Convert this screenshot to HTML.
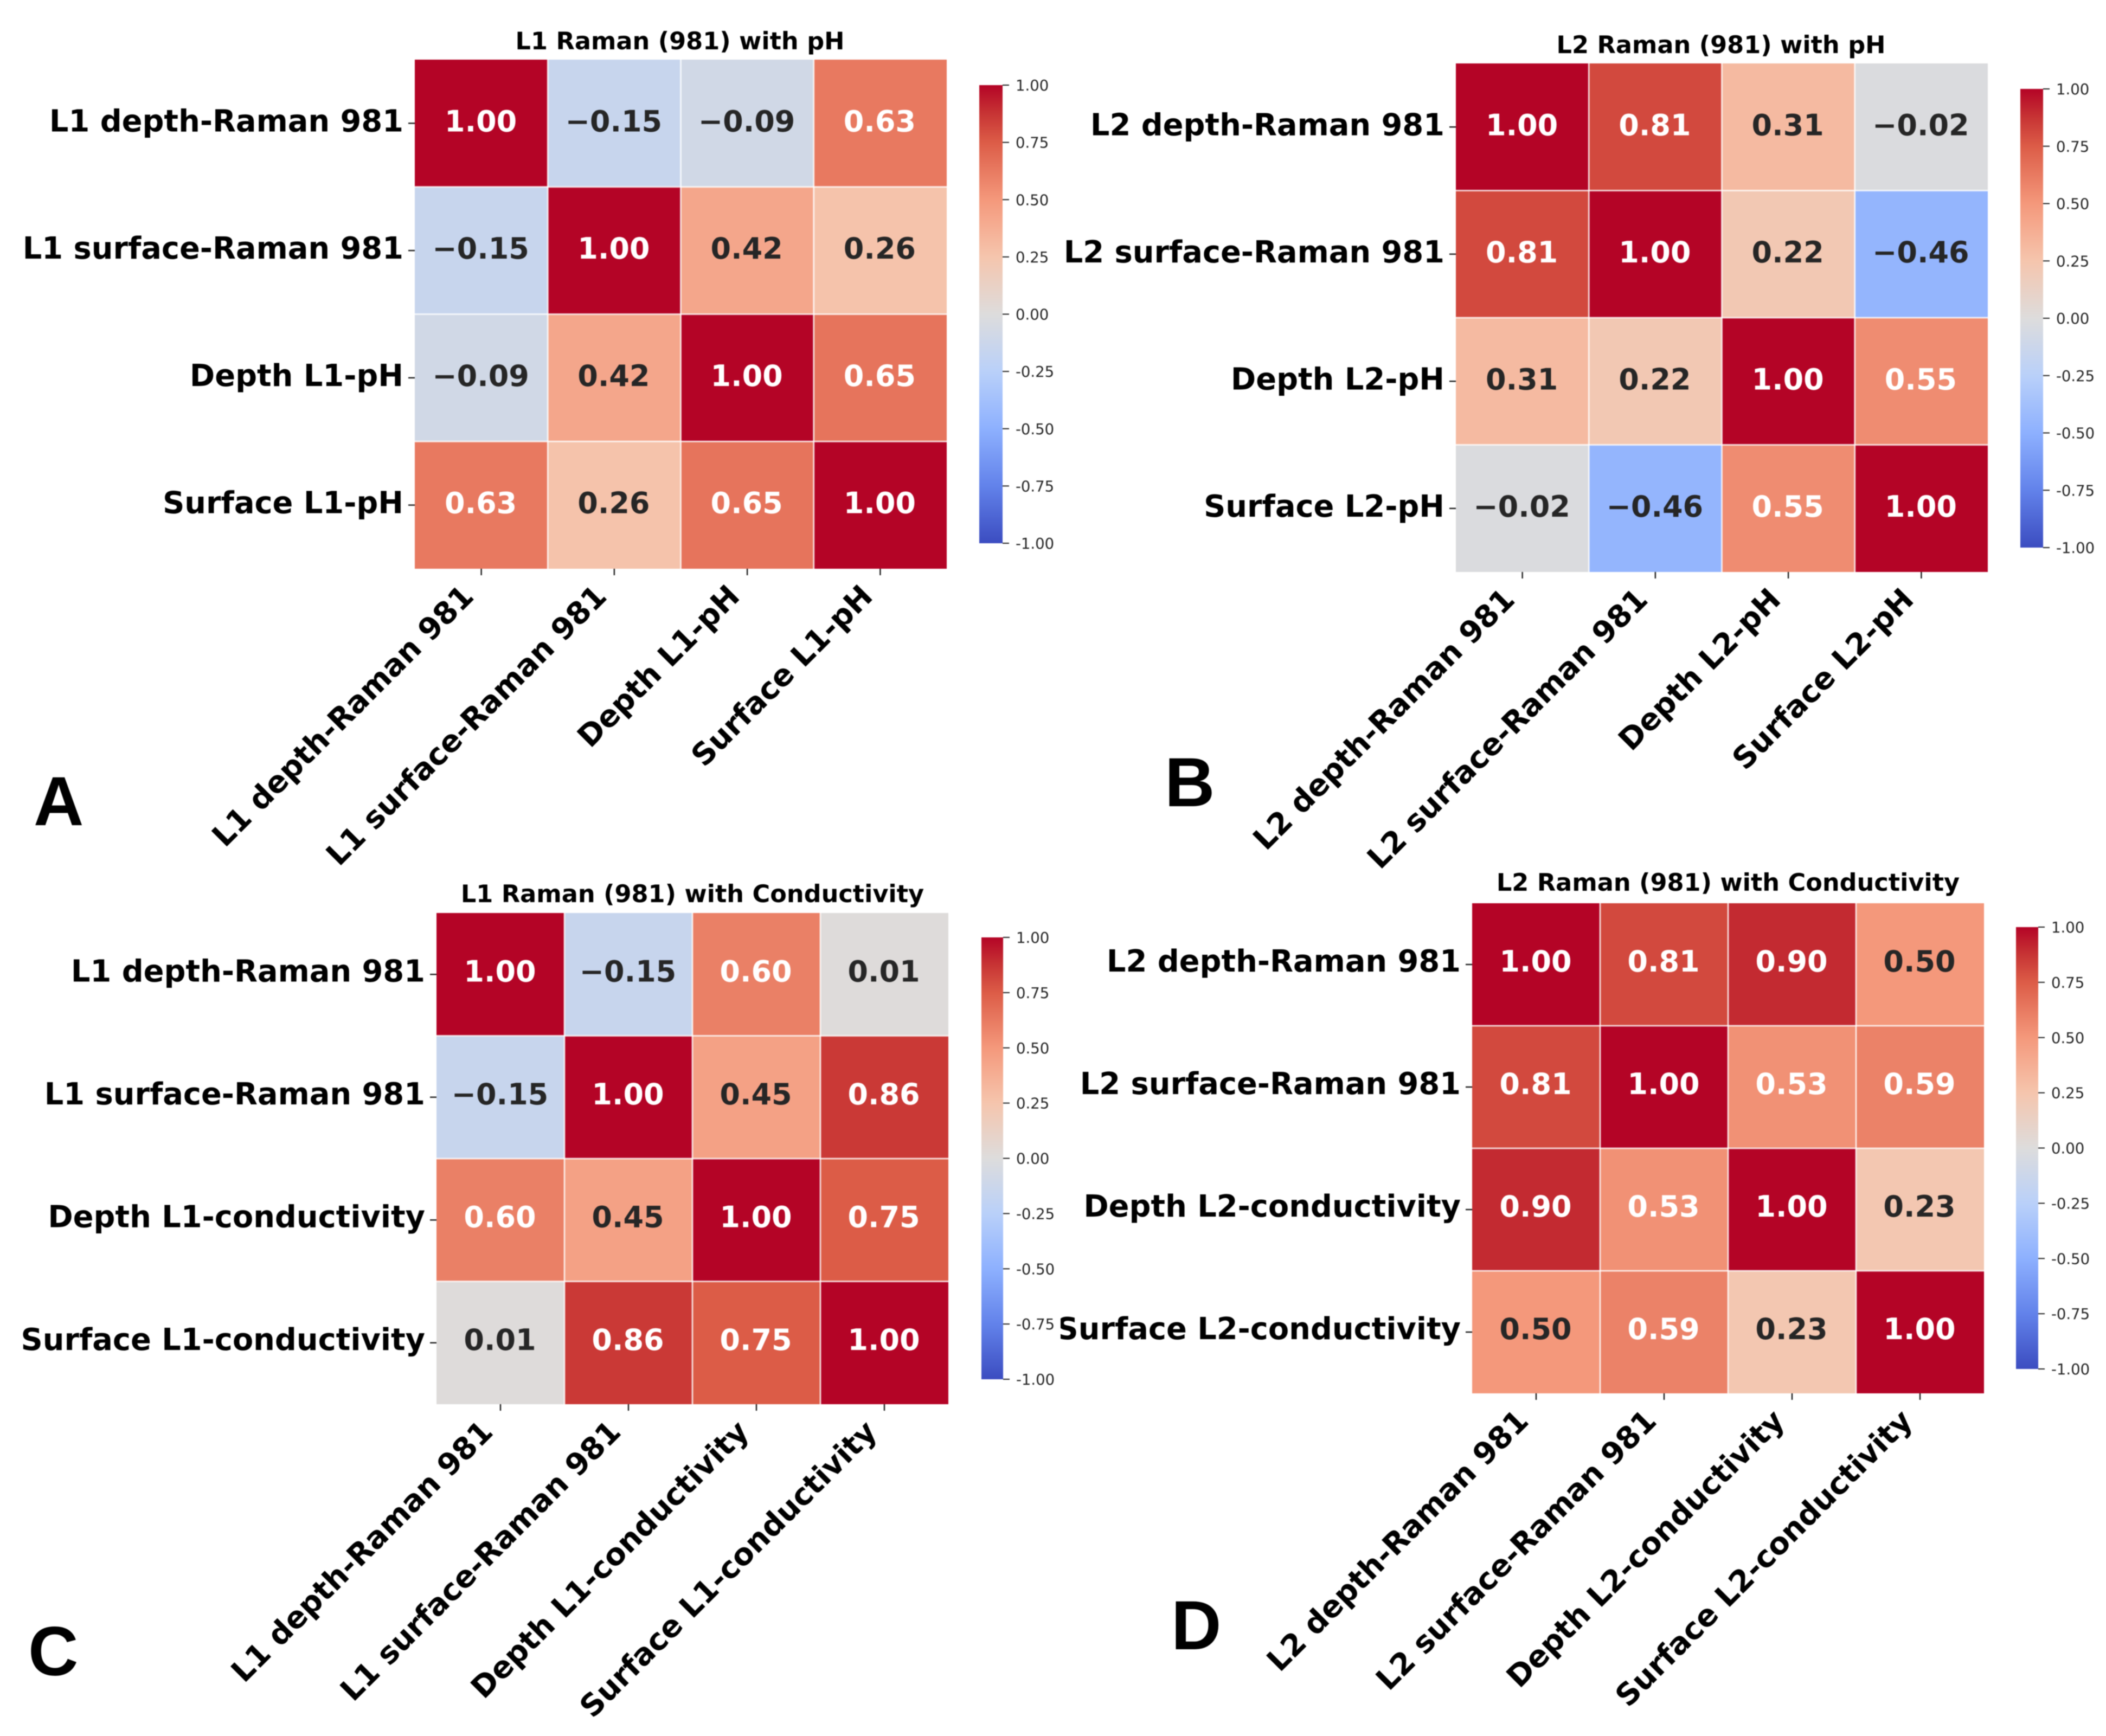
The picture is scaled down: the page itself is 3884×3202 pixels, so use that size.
<!DOCTYPE html>
<html lang="en">
<head>
<meta charset="utf-8">
<title>Raman correlation heatmaps</title>
<style>
html,body{margin:0;padding:0;background:#fff;}
svg{display:block;filter:blur(0.9px);}
text{font-family:"DejaVu Sans","Liberation Sans",sans-serif;}
.letter{font-family:"Liberation Sans",sans-serif;font-weight:700;font-size:128px;fill:#000;}
.title{font-weight:700;font-size:44.6px;fill:#000;text-anchor:middle;}
</style>
</head>
<body>
<svg id="figure" xmlns="http://www.w3.org/2000/svg" width="3884" height="3202" viewBox="0 0 3884 3202">
  <rect width="3884" height="3202" fill="#ffffff"/>
  <defs>
    <linearGradient id="cbar-gradient" x1="0" y1="1" x2="0" y2="0"></linearGradient>
    <clipPath id="clip-d-labels"><rect x="1956" y="1600" width="800" height="1000"/></clipPath>
  </defs>
  <g id="panel-a">
    <text class="title" x="1254" y="91">L1 Raman (981) with pH</text>
  </g>
  <g id="panel-b">
    <text class="title" x="3174" y="98">L2 Raman (981) with pH</text>
  </g>
  <g id="panel-c">
    <text class="title" x="1277" y="1664">L1 Raman (981) with Conductivity</text>
  </g>
  <g id="panel-d">
    <text class="title" x="3187" y="1643">L2 Raman (981) with Conductivity</text>
  </g>
  <text class="letter" x="62" y="1522">A</text>
  <text class="letter" x="2148" y="1487">B</text>
  <text class="letter" x="52" y="3090">C</text>
  <text class="letter" x="2160" y="3042">D</text>
</svg>
<script>
// ---- chart data ----
const labelsA = ["L1 depth-Raman 981", "L1 surface-Raman 981", "Depth L1-pH", "Surface L1-pH"];
const labelsB = ["L2 depth-Raman 981", "L2 surface-Raman 981", "Depth L2-pH", "Surface L2-pH"];
const labelsC = ["L1 depth-Raman 981", "L1 surface-Raman 981", "Depth L1-conductivity", "Surface L1-conductivity"];
const labelsD = ["L2 depth-Raman 981", "L2 surface-Raman 981", "Depth L2-conductivity", "Surface L2-conductivity"];
const valuesA = [
  [1.00, -0.15, -0.09, 0.63],
  [-0.15, 1.00, 0.42, 0.26],
  [-0.09, 0.42, 1.00, 0.65],
  [0.63, 0.26, 0.65, 1.00]
];
const valuesB = [
  [1.00, 0.81, 0.31, -0.02],
  [0.81, 1.00, 0.22, -0.46],
  [0.31, 0.22, 1.00, 0.55],
  [-0.02, -0.46, 0.55, 1.00]
];
const valuesC = [
  [1.00, -0.15, 0.60, 0.01],
  [-0.15, 1.00, 0.45, 0.86],
  [0.60, 0.45, 1.00, 0.75],
  [0.01, 0.86, 0.75, 1.00]
];
const valuesD = [
  [1.00, 0.81, 0.90, 0.50],
  [0.81, 1.00, 0.53, 0.59],
  [0.90, 0.53, 1.00, 0.23],
  [0.50, 0.59, 0.23, 1.00]
];
const colorbarTicks = [1.00, 0.75, 0.50, 0.25, 0.00, -0.25, -0.50, -0.75, -1.00];
const colorbarTickLabels = ["1.00", "0.75", "0.50", "0.25", "0.00", "-0.25", "-0.50", "-0.75", "-1.00"];

// ---- colour map (coolwarm) ----
const coolwarmPositions = [0, 0.125, 0.25, 0.375, 0.5, 0.625, 0.75, 0.875, 0.9375, 1];
const coolwarmStops = [
  [59, 76, 192], [98, 130, 234], [141, 176, 254], [185, 208, 249],
  [221, 220, 220], [245, 197, 173], [244, 152, 123], [220, 92, 71], [199, 52, 52], [180, 4, 38]
];
function colormap(v) {
  const t = Math.max(0, Math.min(1, (v + 1) / 2));
  let i = 0;
  while (i < coolwarmPositions.length - 2 && t > coolwarmPositions[i + 1]) i++;
  const f = (t - coolwarmPositions[i]) / (coolwarmPositions[i + 1] - coolwarmPositions[i]);
  return coolwarmStops[i].map((c, k) => c + (coolwarmStops[i + 1][k] - c) * f);
}
function rgb(c) { return "rgb(" + c.map(Math.round).join(",") + ")"; }
function luminance(c) {
  const l = c.map(x => { const s = x / 255; return s <= 0.03928 ? s / 12.92 : Math.pow((s + 0.055) / 1.055, 2.4); });
  return 0.2126 * l[0] + 0.7152 * l[1] + 0.0722 * l[2];
}
function formatValue(v) { return (v < 0 ? "\u2212" : "") + Math.abs(v).toFixed(2); }

const NS = "http://www.w3.org/2000/svg";
function make(tag, parent, attrs, text) {
  const el = document.createElementNS(NS, tag);
  for (const k in attrs) el.setAttribute(k, attrs[k]);
  if (text !== undefined) el.textContent = text;
  parent.appendChild(el);
  return el;
}

const gradient = document.getElementById("cbar-gradient");
coolwarmStops.forEach((c, i) => {
  make("stop", gradient, { offset: coolwarmPositions[i], "stop-color": rgb(c) });
});

function drawPanel(id, labels, values, box, bar, clip) {
  const root = document.getElementById(id);
  const n = labels.length;
  const cw = (box.x1 - box.x0) / n, ch = (box.y1 - box.y0) / n;
  const xScale = i => box.x0 + i * cw;
  const yScale = i => box.y0 + i * ch;
  const barY = v => bar.y1 - (v + 1) / 2 * (bar.y1 - bar.y0);

  values.forEach((row, r) => {
    row.forEach((v, c) => {
      const col = colormap(v);
      const cell = make("rect", root, { x: xScale(c), y: yScale(r), width: cw, height: ch, fill: rgb(col) });
      
      
    });
  });
  for (let i = 1; i < n; i++) {
    const gv = make("line", root, { x1: xScale(i), x2: xScale(i), y1: box.y0, y2: box.y1, stroke: "#fff", "stroke-opacity": 0.75, "stroke-width": 3 });
    
    
    const gh = make("line", root, { x1: box.x0, x2: box.x1, y1: yScale(i), y2: yScale(i), stroke: "#fff", "stroke-opacity": 0.75, "stroke-width": 3 });
    
    
  }
  values.forEach((row, r) => {
    row.forEach((v, c) => {
      const lum = luminance(colormap(v));
      const t = make("text", root, {
        x: xScale(c) + cw / 2 - 1, y: yScale(r) + ch / 2 + 17 + box.dy, "text-anchor": "middle", "font-size": 54,
        "font-weight": 700, fill: lum < 0.408 ? "#ffffff" : "#262626"
      }, formatValue(v));
      
      
    });
  });
  const yLabelGroup = make("g", root, clip ? { "clip-path": "url(#" + clip + ")" } : {});
  
  
  labels.forEach((label, i) => {
    const cy = yScale(i) + ch / 2;
    const tick = make("line", root, { x1: box.x0 - 12, x2: box.x0, y1: cy, y2: cy, stroke: "#262626", "stroke-width": 2.5 });
    
    
    const yl = make("text", yLabelGroup, {
      x: box.x0 - 21, y: cy + 17 + box.dy, "text-anchor": "end", "font-size": 55.8, "font-weight": 700, fill: "#000"
    }, label);
    
    

    const cx = xScale(i) + cw / 2;
    const xt = make("line", root, { x1: cx, x2: cx, y1: box.y1, y2: box.y1 + 12, stroke: "#262626", "stroke-width": 2.5 });
    
    
    const ax = cx - 11, ay = box.y1 + 54;
    const xl = make("text", root, {
      x: ax, y: ay, "text-anchor": "end", "font-size": 55.8, "font-weight": 700, fill: "#000",
      transform: "rotate(-45 " + ax + " " + ay + ")"
    }, label);
    
    
  });

  const barRect = make("rect", root, { x: bar.x0, y: bar.y0, width: bar.x1 - bar.x0, height: bar.y1 - bar.y0, fill: "url(#cbar-gradient)" });
  
  
  colorbarTicks.forEach((v, i) => {
    const y = barY(v);
    const bt = make("line", root, { x1: bar.x1, x2: bar.x1 + 12, y1: y, y2: y, stroke: "#262626", "stroke-width": 2 });
    
    
    const bl = make("text", root, { x: bar.x1 + 24, y: y + 10, "font-size": 27.5, fill: "#262626" }, colorbarTickLabels[i]);
    
    
  });
}

drawPanel("panel-a", labelsA, valuesA, { x0: 765, x1: 1746, y0: 110, y1: 1049, dy: -2 }, { x0: 1806, x1: 1849, y0: 157, y1: 1002 });
drawPanel("panel-b", labelsB, valuesB, { x0: 2685, x1: 3666, y0: 117, y1: 1055, dy: -2 }, { x0: 3726, x1: 3768, y0: 164, y1: 1010 });
drawPanel("panel-c", labelsC, valuesC, { x0: 805, x1: 1749, y0: 1684, y1: 2590, dy: -4 }, { x0: 1810, x1: 1850, y0: 1729, y1: 2544 });
drawPanel("panel-d", labelsD, valuesD, { x0: 2715, x1: 3659, y0: 1666, y1: 2570, dy: -4 }, { x0: 3718, x1: 3759, y0: 1710, y1: 2525 }, "clip-d-labels");
</script>
</body>
</html>
